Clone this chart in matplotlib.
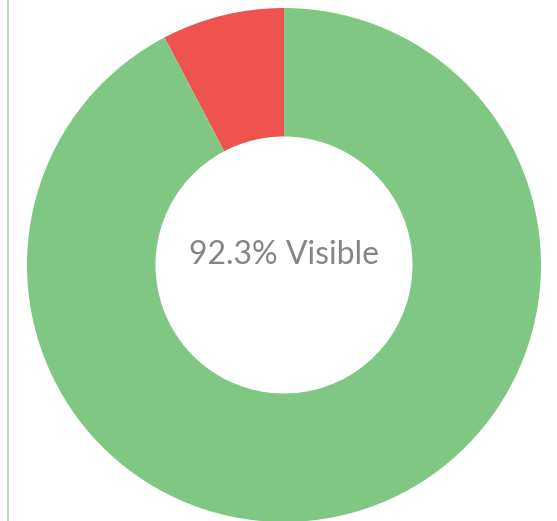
import matplotlib.pyplot as plt
from matplotlib.lines import Line2D

labels = ['Hidden', 'Visible']
values = [7.7, 92.3]
colors = ['#EF5350', '#81C784']
center_text = '92.3% Visible'

W, H = 557, 521
fig = plt.figure(figsize=(W / 100, H / 100), dpi=100)
fig.patch.set_facecolor('white')

# donut placement in pixels
cx, cy, r = 284, 265, 257
ax = fig.add_axes([(cx - r) / W, (H - cy - r) / H, 2 * r / W, 2 * r / H])
ax.pie(values, colors=colors, startangle=90, counterclock=True,
       radius=1, wedgeprops=dict(width=0.5, linewidth=0))
ax.set_xlim(-1, 1)
ax.set_ylim(-1, 1)
ax.axis('off')

ax.text(0, 0.04, center_text, ha='center', va='center', fontsize=23,
        color='#858585', family='Lato', fontweight='normal')

# thin border line on the left
fig.add_artist(Line2D([7.5 / W, 7.5 / W], [0, 1], color='#b5dfb3', linewidth=1.3,
                      transform=fig.transFigure))

fig.savefig('out.png', dpi=100)
